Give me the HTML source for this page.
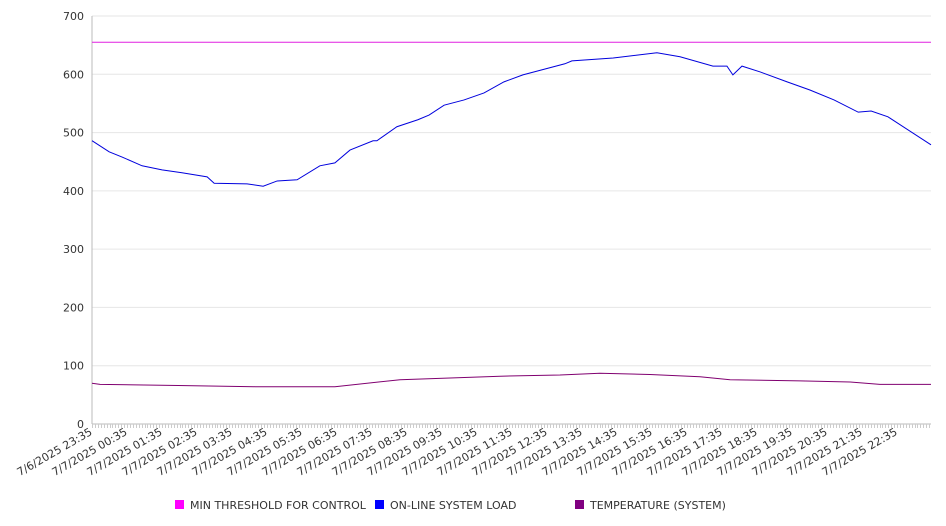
<!DOCTYPE html>
<html><head><meta charset="utf-8"><style>
body{margin:0;background:#fff;}
svg{display:block;font-family:"DejaVu Sans","Liberation Sans",sans-serif;}
</style></head><body>
<svg id="chart" width="946" height="526"></svg>
<script>
const yTicks=[0,100,200,300,400,500,600,700];
const xLabels=["7/6/2025 23:35","7/7/2025 00:35","7/7/2025 01:35","7/7/2025 02:35","7/7/2025 03:35","7/7/2025 04:35","7/7/2025 05:35","7/7/2025 06:35","7/7/2025 07:35","7/7/2025 08:35","7/7/2025 09:35","7/7/2025 10:35","7/7/2025 11:35","7/7/2025 12:35","7/7/2025 13:35","7/7/2025 14:35","7/7/2025 15:35","7/7/2025 16:35","7/7/2025 17:35","7/7/2025 18:35","7/7/2025 19:35","7/7/2025 20:35","7/7/2025 21:35","7/7/2025 22:35"];
const thresholdValue=655;
const loadHours=[0,0.49,0.86,1.43,2.0,2.57,3.29,3.49,4.43,4.89,5.29,5.86,6.51,6.94,7.37,8.03,8.14,8.71,9.31,9.63,10.06,10.63,11.2,11.77,12.31,13.51,13.71,14.89,16.14,16.8,17.74,18.14,18.31,18.57,19.09,19.86,20.51,21.2,21.89,22.26,22.74,23.97];
const loadValues=[486,467,458,443,436,431,424,413,412,408,417,419,443,448,470,486,486,510,522,530,547,556,568,587,599,618,623,628,637,630,614,614,599,614,604,587,573,556,535,537,527,479];
const tempHours=[0,0.23,2.46,4.66,6.94,8.8,10.23,11.66,13.37,14.51,15.94,17.37,18.23,20.23,21.66,22.51,23.97];
const tempValues=[70,68,66,64,64,76,79,82,84,87,85,81,76,74,72,68,68];
const NS="http://www.w3.org/2000/svg";
const svg=document.getElementById('chart');
const X0=92,X1=931,Y0=424,Y1=16,HOURS=23.97;
function xs(h){return X0+h*(X1-X0)/HOURS;}
function ys(v){return Y0-v*(Y0-Y1)/700;}
function mk(t,a){const e=document.createElementNS(NS,t);for(const k in a)e.setAttribute(k,a[k]);svg.appendChild(e);return e;}
yTicks.forEach(v=>{
  const g=mk('line',{x1:X0,x2:X1,y1:ys(v),y2:ys(v),stroke:v===0?'#bbb':'#e6e6e6','stroke-width':1});
  
  
  const t=mk('text',{x:84,y:ys(v)+4,'text-anchor':'end','font-size':11,fill:'#333'});
  t.textContent=v;
  
  
});
const ax=mk('line',{x1:X0,x2:X0,y1:Y1,y2:Y0,stroke:'#bbb'});


let tk='';for(let m=0;m<=HOURS*60;m+=5){const x=Math.round(xs(m/60))+0.5;tk+=`M${x} ${Y0}v4`;}
const tp=mk('path',{d:tk,stroke:'#ccc','stroke-width':1});


xLabels.forEach((l,i)=>{
  const x=xs(i)+1,y=434;
  const t=mk('text',{x:x,y:y,'text-anchor':'end','font-size':11,fill:'#333',transform:`rotate(-30 ${x} ${y})`});
  t.textContent=l;
  
  
});
const th=mk('line',{x1:X0,x2:X1,y1:ys(thresholdValue),y2:ys(thresholdValue),stroke:'#e020e0','stroke-width':1});


function poly(hs,vs,c,name){
  const p=mk('polyline',{points:hs.map((h,i)=>xs(h)+','+ys(vs[i])).join(' '),fill:'none',stroke:c,'stroke-width':1});
  
  
}
poly(loadHours,loadValues,'#0000dd','load-line');
poly(tempHours,tempValues,'#800070','temperature-line');
[[175,'#ff00ff','MIN THRESHOLD FOR CONTROL','legend-threshold'],[375,'#0000ff','ON-LINE SYSTEM LOAD','legend-load'],[575,'#800080','TEMPERATURE (SYSTEM)','legend-temperature']].forEach(([x,c,l,n])=>{
  const r=mk('rect',{x:x,y:500,width:9,height:9,fill:c});
  
  
  const t=mk('text',{x:x+15,y:509,'font-size':11,fill:'#333'});
  t.textContent=l;
  
  
});
</script>
</body></html>
